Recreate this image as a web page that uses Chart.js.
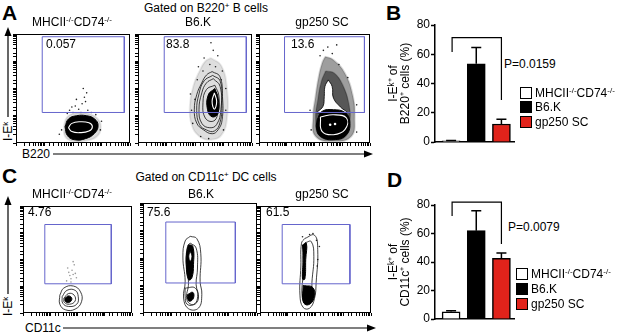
<!DOCTYPE html>
<html>
<head>
<meta charset="utf-8">
<script src="https://cdn.jsdelivr.net/npm/chart.js@4.4.1/dist/chart.umd.min.js"></script>
<style>
html, body { margin: 0; padding: 0; background: #fff; }
#fig { position: relative; width: 617px; height: 335px; overflow: hidden;
       font-family: "Liberation Sans", Arial, sans-serif; color: #000; }
#fig canvas { position: absolute; }
.t { position: absolute; font-size: 12px; line-height: 14px; white-space: nowrap; }
.c { transform: translateX(-50%); }
.rot { transform-origin: 0 0; transform: rotate(-90deg); }
.sup { font-size: 8px; vertical-align: 4px; line-height: 0; }
.letter { position: absolute; font-weight: bold; font-size: 21px; line-height: 21px; }
.sw { position: absolute; width: 12px; height: 12px; border: 1px solid #000; box-sizing: border-box; }
#arrows { position: absolute; left: 0; top: 0; }
</style>
</head>
<body>
<div id="fig">
  <svg id="arrows" width="617" height="335">
    <g stroke="#000" stroke-width="1.2" fill="none">
      <line x1="8" y1="117" x2="8" y2="34"/>
      <line x1="53" y1="154" x2="365" y2="154"/>
      <line x1="8" y1="294" x2="8" y2="203"/>
      <line x1="63" y1="328" x2="368" y2="328"/>
    </g>
    <g fill="#000">
      <polygon points="8,27 4.5,36 11.5,36"/>
      <polygon points="373,154 364,150.5 364,157.5"/>
      <polygon points="8,196 4.5,205 11.5,205"/>
      <polygon points="376,328 367,324.5 367,331.5"/>
    </g>
  </svg>

  <div class="letter" style="left:2px;top:2px">A</div>
  <div class="letter" style="left:386px;top:2px">B</div>
  <div class="letter" style="left:2px;top:165px">C</div>
  <div class="letter" style="left:387px;top:169px">D</div>

  <div class="t c" style="left:206px;top:1px">Gated on B220<span class="sup">+</span> B cells</div>
  <div class="t c" style="left:206px;top:170px">Gated on CD11c<span class="sup">+</span> DC cells</div>

  <div class="t" style="left:22px;top:147px">B220</div>
  <div class="t" style="left:25px;top:321px">CD11c</div>
  <div class="t rot" style="left:1px;top:141px">I-E<span class="sup">k</span></div>
  <div class="t rot" style="left:1px;top:316px">I-E<span class="sup">k</span></div>

  <div class="t" style="left:504px;top:57px">P=0.0159</div>
  <div class="t" style="left:508px;top:220px">P=0.0079</div>

  <canvas id="chart-b" width="232" height="160" style="left:385px;top:0px"></canvas>
  <canvas id="chart-d" width="232" height="170" style="left:385px;top:165px"></canvas>
</div>

<script>
"use strict";

// ── Bar data (panels B and D) ───────────────────────────────────────────────
const GROUP_HTML = ['MHCII<span class="sup">-/-</span>CD74<span class="sup">-/-</span>', "B6.K", "gp250 SC"];
const B220_MEAN  = [0.8, 53.5, 12.3];
const B220_SEM   = [0.3, 11.2, 3.3];
const CD11C_MEAN = [5.1, 62.0, 42.5];
const CD11C_SEM  = [0.7, 14.0, 3.8];
const PCT_TICKS  = [0, 20, 40, 60, 80];
// bracket legs: [left leg end, top, right leg end], in % units
const B220_BRACKET  = [61.5, 71.3, 28.7];
const CD11C_BRACKET = [72.3, 82.0, 52.6];

// ── Flow gates ──────────────────────────────────────────────────────────────
const B220_GATE_PCT  = ["0.057", "83.8", "13.6"];
const CD11C_GATE_PCT = ["4.76", "75.6", "61.5"];
const B220_GATE  = [[23, 28], [23, 97.5], [95, 97.5], [95, 28]];
const CD11C_GATE = [[20, 27.3], [20, 82.7], [81, 82.7], [81, 27.3]];

// ── Flow contours (x = marker, y = I-Ek, both 0-100 display units) ──────────
// A1  MHCII-/-CD74-/-  B220
const a1Dots = [[47,30],[50,28],[52,34],[55,31],[58,36],[60,42],[62,46],[57,28],[53,40],[63,30],
                [49,33],[61,38],[66,28],[45,27],[70,26],[40,12],[74,12],[38,8],[75,20],[59,50]];
const a1Halo = [[42,16],[45,24],[53,27.5],[63,27],[71,23],[74.5,15],[71,6],[61,2],[50,1.5],[43,6]];
const a1Blob = [[43,15],[46,22],[53,25],[62,25],[69,22],[72,16],[69,9],[61,4],[51,3],[45,7]];
const a1Ring = [[46,14],[49,18],[56,19.5],[64,18.5],[67,15],[64,11],[56,9.5],[49,10.5]];
// A2  B6.K  B220
const a2Dots  = [[50,40],[47,30],[52,58],[57,66],[63,72],[68,70],[74,66],[77,50],[77,30],[75,12],
                 [62,4],[55,6],[48,18],[58,78],[66,85],[70,80],[64,92],[73,58],[46,45],[53,70]];
const a2Halo  = [[64,78],[73,71],[78,50],[78,22],[73,7],[64,3],[54,6],[47,17],[45.5,34],[48.5,52],[54,66],[59,75]];
const a2Outer = [[65,65.5],[71.8,61],[74.1,42.7],[73.8,21.3],[70.3,12.2],[65.1,8.5],[57.3,12.2],
                 [51.5,18.3],[49.4,30.5],[51.5,44.2],[55.8,54.9],[60.2,62.5]];
const a2Ring2 = [[65.5,62],[72,57],[73.5,37],[72,19],[67,11],[60,12],[54,17],[51.5,30],[53.5,45],[58,57]];
const a2Mid   = [[66,59],[72,52],[72.7,30.5],[69,17],[63,14],[56,18],[53.5,30.5],[56,46],[60,55]];
const a2Inner = [[67.4,53],[71,43],[70,27],[66,20],[59,23],[57,37],[60,49]];
const a2Core  = [[67.4,50],[70.3,41],[70,27],[65,24],[61,30.5],[61.6,44]];
const a2Glint = [[67,46],[69,38],[67,31],[65,38]];
// A3  gp250 SC  B220
const a3Dots  = [[58,85],[62,88],[66,82],[72,72],[70,90],[55,80],[80,60],[88,35],[46,30],[47,12],[88,10]];
const a3Cloud = [[59.7,79.3],[67.1,76.2],[77.4,64],[84.7,42.7],[86.2,24.4],[83.2,6.1],[67.1,1.5],
                 [50.9,6.1],[48.8,24.4],[50.9,42.7],[53.8,61],[56.8,73.2]];
const a3Core  = [[60,66],[68,64],[76,52],[81,36],[82,20],[78,6],[66,3],[54,7],[51,22],[53,40],[56,56]];
const a3Hole  = [[62.4,57.9],[65.9,51.8],[67.1,41.2],[73.5,32.9],[79.4,27.4],[52.4,27.4],
                 [57.6,33.5],[58.8,42.7],[59.4,51.8]];
const a3Blob  = [[52.4,21.3],[56.8,29],[67.1,30.5],[77.4,28],[81.8,19.8],[78.8,7.6],[67.1,3],
                 [55.3,6.1],[51.8,13.7]];
const a3Glint = [[55.3,23.8],[67.1,25.9],[78.8,22.9],[77.4,12.2],[67.1,7.6],[56.8,10.7]];
const a3Spots = [[64.1,16.8],[68.5,17.4]];
// C1  MHCII-/-CD74-/-  CD11c
const c1Dots  = [[40,30],[43,35],[45,40],[47,45],[42,38],[49,33],[44,29],[46,48],[41,42],[48,37],[44,32],[46,36]];
const c1Outer = [[33.8,16.7],[37.4,23.3],[46.3,25.2],[52.8,19.7],[53.7,10.6],[47.8,3.6],[38.9,3],[33.8,8.2]];
const c1Mid   = [[35.9,15.2],[40.4,21.2],[47.8,21.2],[50.7,15.2],[49.3,8.2],[41.8,6.1],[36.5,9.1]];
const c1Inner = [[37.4,13.6],[41.8,18.2],[46.9,16.7],[47.8,11.2],[42.7,8.2],[37.9,10]];
const c1Core  = [[38.3,13.6],[41.8,16],[44.8,13.6],[42.7,10],[39,10.6]];
// C2  B6.K  CD11c
const c2Outer = [[41.4,69.7],[47.2,67.6],[50.7,53.9],[50.1,28.8],[51.6,16.7],[48.7,4.5],[39.9,3.9],
                 [35.6,13.6],[37,28.8],[35,50.9],[37,65.5]];
const c2Mid   = [[41.4,63.6],[46.6,59.1],[47.8,40.9],[46.6,25.8],[48.7,13.6],[44.3,7.6],[38.5,12.1],
                 [39.9,27.3],[37.9,47],[39.1,60.6]];
const c2Core  = [[39.9,62.1],[43.7,60.6],[44.3,43.9],[42.8,31.8],[39.9,30.3],[37.9,43.9],[38.5,56.1]];
const c2Hole  = [[41.4,56.1],[42.9,51.5],[41.4,47],[40.2,51.5]];
const c2Low   = [[37,22.7],[45.8,22.7],[47.8,13.6],[44.3,7.6],[38.5,8.2],[37,15.2]];
const c2LowCore = [[39,16.7],[43.7,18.8],[44.3,13.6],[40.8,10.6],[39,13.6]];
// C3  gp250 SC  CD11c
const c3Dots  = [[38.3,71.2],[44.7,73.3],[47.7,74.2],[50.9,67.9],[53.5,62.1],[52,50],[51.5,43.9]];
const c3Outer = [[40.4,69.7],[49.1,72.7],[52,59.1],[50.6,28.8],[49.1,13.6],[44.7,4.5],[38.9,5.2],
                 [36,16.7],[36.8,43.9],[37.4,65.2]];
const c3Mid   = [[40.9,65.8],[46.2,66.7],[48.5,53],[46.8,28.8],[46.2,13.6],[41.8,8.2],[38,15.2],
                 [38.9,37.9],[38.9,56.1]];
const c3Core  = [[38.3,63.6],[41.8,65.2],[41.2,50],[40.4,31.8],[38.3,31.8],[38.9,50]];
const c3Low   = [[38.9,25.8],[47.7,23.6],[48.5,13.6],[43.3,7.6],[38.9,10.6]];

// layers are listed bottom -> top
const FLOW_PLOTS = [
  { gate: B220_GATE, pct: B220_GATE_PCT[0], layers: [["dots", a1Dots], ["halo", a1Halo], ["solid", a1Blob], ["glint", a1Ring]] },
  { gate: B220_GATE, pct: B220_GATE_PCT[1], layers: [["dots", a2Dots], ["halo", a2Halo], ["line", a2Outer], ["line", a2Ring2],
      ["line", a2Mid], ["line", a2Inner], ["solid", a2Core], ["glint", a2Glint]] },
  { gate: B220_GATE, pct: B220_GATE_PCT[2], layers: [["dots", a3Dots], ["speckle", a3Cloud], ["cloud", a3Core], ["hole", a3Hole],
      ["solid", a3Blob], ["glint", a3Glint], ["spots", a3Spots]] },
  { gate: CD11C_GATE, pct: CD11C_GATE_PCT[0], layers: [["grayDots", c1Dots], ["line", c1Outer], ["line", c1Mid],
      ["line", c1Inner], ["solid", c1Core]] },
  { gate: CD11C_GATE, pct: CD11C_GATE_PCT[1], layers: [["line", c2Outer], ["line", c2Mid], ["solid", c2Core],
      ["hole", c2Hole], ["line", c2Low], ["solid", c2LowCore]] },
  { gate: CD11C_GATE, pct: CD11C_GATE_PCT[2], layers: [["dots", c3Dots], ["line", c3Outer], ["line", c3Mid],
      ["solid", c3Core], ["solid", c3Low]] },
];

// ── Layout ──────────────────────────────────────────────────────────────────
// flow box [left, top, right, bottom] in page px
const FLOW_BOXES = [
  [16, 31, 133, 143], [138, 31, 255, 143], [259, 31, 373, 143],
  [23, 203, 135, 313], [143, 203, 257, 313], [260, 203, 374, 313],
];
const PCT_POS = [[46, 37], [166, 37], [291, 37], [28, 205], [147, 205], [266, 205]];
const SUBTITLE_POS = [[72, 15], [198, 15], [322, 15], [72, 187], [201, 187], [322, 187]];
const LEGEND_POS = [[520, 86.5, 14.5], [516, 268, 15]];

const FONT = '"Liberation Sans", Arial, sans-serif';
const BAR_COLORS = ["#ffffff", "#000000", "#e0231b"];
const GATE_COLOR = "#6565cc";

const LAYER_STYLE = {
  line:    { showLine: true, tension: 0.45, borderColor: "#111", borderWidth: 0.8, pointRadius: 0, fill: false },
  solid:   { showLine: true, tension: 0.45, borderColor: "#000", borderWidth: 1, backgroundColor: "#000", pointRadius: 0, fill: "shape" },
  hole:    { showLine: true, tension: 0.45, borderColor: "#000", borderWidth: 0.8, backgroundColor: "#fff", pointRadius: 0, fill: "shape" },
  halo:    { showLine: true, tension: 0.45, borderColor: "rgba(0,0,0,0.08)", borderWidth: 2, backgroundColor: "rgba(0,0,0,0.13)", pointRadius: 0, fill: "shape" },
  speckle: { showLine: true, tension: 0.45, borderColor: "rgba(0,0,0,0.15)", borderWidth: 2, backgroundColor: "rgba(0,0,0,0.38)", pointRadius: 0, fill: "shape" },
  cloud:   { showLine: true, tension: 0.45, borderColor: "rgba(0,0,0,0.2)", borderWidth: 1.5, backgroundColor: "rgba(0,0,0,0.45)", pointRadius: 0, fill: "shape" },
  glint:   { showLine: true, tension: 0.45, borderColor: "#fff", borderWidth: 1.1, pointRadius: 0, fill: false },
  dots:    { showLine: false, pointRadius: 0.8, pointBackgroundColor: "#222", pointBorderWidth: 0 },
  grayDots:{ showLine: false, pointRadius: 0.8, pointBackgroundColor: "#999", pointBorderWidth: 0 },
  spots:   { showLine: false, pointRadius: 1.3, pointBackgroundColor: "#fff", pointBorderWidth: 0 },
};

Chart.defaults.font.family = FONT;
Chart.defaults.color = "#000";

function el(id) { return document.getElementById(id); }
function toXY(pts, close) {
  const out = pts.map(([x, y]) => ({ x, y }));
  if (close) out.push({ x: pts[0][0], y: pts[0][1] });
  return out;
}

function addText(html, left, top, cls) {
  const d = document.createElement("div");
  d.className = "t" + (cls ? " " + cls : "");
  d.style.left = left + "px";
  d.style.top = top + "px";
  d.innerHTML = html;
  el("fig").appendChild(d);
}

// ── Plugins ─────────────────────────────────────────────────────────────────
const frame = {
  id: "frame",
  afterDraw(chart) {
    const { ctx, chartArea: a } = chart;
    ctx.save();
    ctx.strokeStyle = "#000";
    ctx.lineWidth = 1;
    ctx.strokeRect(a.left + 0.5, a.top + 0.5, a.right - a.left - 1, a.bottom - a.top - 1);
    ctx.restore();
  },
};

const errorBars = {
  id: "errorBars",
  afterDatasetsDraw(chart, args, opts) {
    const { ctx, scales: { x, y } } = chart;
    const meta = chart.getDatasetMeta(0);
    ctx.save();
    ctx.strokeStyle = "#000";
    ctx.lineWidth = 1.5;
    meta.data.forEach((bar, i) => {
      const top = y.getPixelForValue(opts.mean[i] + opts.sem[i]);
      ctx.beginPath();
      ctx.moveTo(bar.x, bar.y);
      ctx.lineTo(bar.x, top);
      ctx.moveTo(bar.x - 5, top);
      ctx.lineTo(bar.x + 5, top);
      ctx.stroke();
    });
    // significance bracket, first to last group
    const [l, t, r] = opts.bracket;
    const x0 = x.getPixelForValue(1) + 1, x1 = x.getPixelForValue(3);
    ctx.lineWidth = 1.2;
    ctx.beginPath();
    ctx.moveTo(x0, y.getPixelForValue(l));
    ctx.lineTo(x0, y.getPixelForValue(t));
    ctx.lineTo(x1, y.getPixelForValue(t));
    ctx.lineTo(x1, y.getPixelForValue(r));
    ctx.stroke();
    ctx.restore();
  },
};

// ── Flow plots ──────────────────────────────────────────────────────────────
function makeFlow(idx, plot) {
  const [L, T, R, B] = FLOW_BOXES[idx];
  const cv = document.createElement("canvas");
  cv.width = R - L + 5;
  cv.height = B - T + 5;
  cv.style.left = (L - 4) + "px";
  cv.style.top = (T - 1) + "px";
  el("fig").appendChild(cv);

  const datasets = plot.layers.map(([kind, pts]) =>
    Object.assign({ data: toXY(pts, LAYER_STYLE[kind].showLine) }, LAYER_STYLE[kind]));
  datasets.push({
    data: toXY(plot.gate, true), showLine: true, tension: 0,
    borderColor: GATE_COLOR, borderWidth: 1, pointRadius: 0, fill: false,
  });
  datasets.reverse(); // first dataset is painted last

  const tickAxis = (pos) => ({
    type: "logarithmic", position: pos, min: 10, max: 100000,
    ticks: { display: false },
    grid: { drawOnChartArea: false, tickLength: 3, tickColor: "#000", tickWidth: 1 },
    border: { display: false },
    afterFit: s => { if (pos === "left") s.width = 4; else s.height = 4; },
  });

  new Chart(cv, {
    type: "scatter",
    data: { datasets },
    options: {
      responsive: false, animation: false, events: [],
      layout: { padding: { left: 0, top: 1, right: 1, bottom: 0 } },
      plugins: { legend: { display: false }, tooltip: { enabled: false } },
      scales: {
        x: { type: "linear", min: 0, max: 100, display: false },
        y: { type: "linear", min: 0, max: 100, display: false },
        xt: tickAxis("bottom"),
        yt: tickAxis("left"),
      },
    },
    plugins: [frame],
  });

  const [px, py] = PCT_POS[idx];
  addText(plot.pct, px, py);
  const [sx, sy] = SUBTITLE_POS[idx];
  addText(GROUP_HTML[idx % 3], sx, sy, "c");
}

// ── Bar charts ──────────────────────────────────────────────────────────────
function makeBars(canvasId, mean, sem, bracket, title, pad) {
  new Chart(el(canvasId), {
    type: "bar",
    data: {
      datasets: [{
        data: mean.map((v, i) => ({ x: i + 1, y: v })),
        backgroundColor: BAR_COLORS,
        borderColor: "#000",
        borderWidth: 1.5,
        barThickness: 18,
      }],
    },
    options: {
      responsive: false, animation: false, events: [],
      layout: { padding: pad },
      plugins: {
        legend: { display: false },
        tooltip: { enabled: false },
        errorBars: { mean, sem, bracket },
      },
      scales: {
        x: {
          type: "linear", min: 0.36, max: 3.5, offset: false,
          ticks: { display: false },
          grid: { display: false, offset: false },
          border: { color: "#000", width: 1.5 },
          afterFit: s => { s.height = 0; },
        },
        y: {
          min: 0, max: 80,
          afterBuildTicks: s => { s.ticks = PCT_TICKS.map(v => ({ value: v })); },
          ticks: { color: "#000", font: { size: 12 }, padding: 1 },
          grid: { drawOnChartArea: false, tickLength: 4, tickColor: "#000", tickWidth: 1.5 },
          border: { color: "#000", width: 1.5 },
          title: {
            display: true, text: title, color: "#000",
            font: { size: 12, lineHeight: 1 }, padding: { top: 3, bottom: 0 },
          },
          afterFit: s => { s.width = 50; },
        },
      },
    },
    plugins: [errorBars],
  });
}

function makeLegend([left, top, step]) {
  GROUP_HTML.forEach((g, i) => {
    const sw = document.createElement("div");
    sw.className = "sw";
    sw.style.left = left + "px";
    sw.style.top = (top + i * step) + "px";
    sw.style.background = BAR_COLORS[i];
    el("fig").appendChild(sw);
    addText(g, left + 15, top - 1 + i * step);
  });
}

FLOW_PLOTS.forEach((p, i) => makeFlow(i, p));
makeBars("chart-b", B220_MEAN, B220_SEM, B220_BRACKET,
  ["I-E\u1D4F\u207A of", "B220\u207A cells (%)"], { left: 0, top: 25, right: 103, bottom: 18 });
makeBars("chart-d", CD11C_MEAN, CD11C_SEM, CD11C_BRACKET,
  ["I-E\u1D4F\u207A of", "CD11c\u207A cells (%)"], { left: 0, top: 40, right: 103, bottom: 16 });
LEGEND_POS.forEach(makeLegend);
</script>
</body>
</html>
